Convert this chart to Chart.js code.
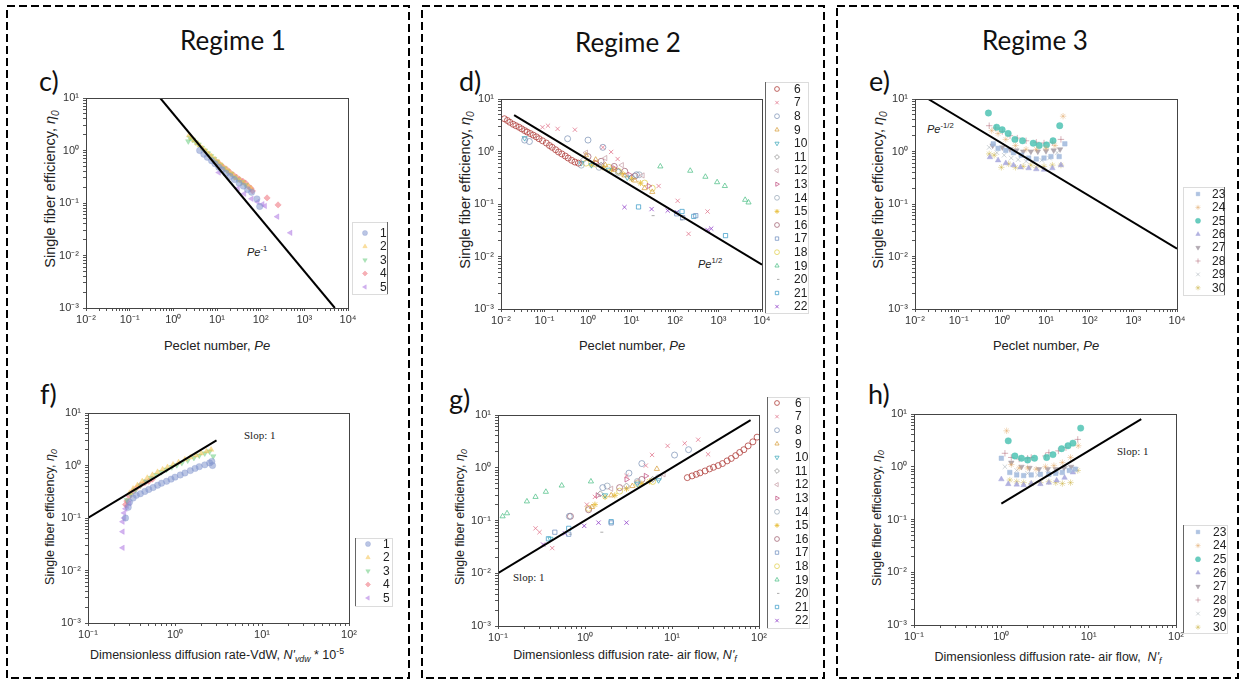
<!DOCTYPE html>
<html>
<head>
<meta charset="utf-8">
<script src="https://cdn.jsdelivr.net/npm/chart.js@4.4.1/dist/chart.umd.min.js"></script>
<style>
  body { margin: 0; background: #fff; }
  #page { position: relative; width: 1245px; height: 681px; overflow: hidden; font-family: 'Liberation Sans', Arial, sans-serif; color: #222; }
  .regime { position: absolute; font-family: Lato, 'Open Sans', sans-serif; font-size: 26px; transform: translate(-50%, -50%); white-space: nowrap; line-height: 1; color: #111; }
  .panel { position: absolute; font-family: Lato, 'Open Sans', sans-serif; font-size: 27px; line-height: 1; color: #111; }
  .ytitle { position: absolute; transform: translate(-50%, -50%) rotate(-90deg); white-space: nowrap; line-height: 1; }
  .xtitle { position: absolute; transform: translate(-50%, -50%); white-space: nowrap; line-height: 1; }
  .note { position: absolute; white-space: nowrap; line-height: 1; font-size: 11px; }
  .serif { font-family: 'Liberation Serif', 'Times New Roman', serif; }
  sub, sup { line-height: 0; font-size: 70%; }
  canvas { position: absolute; }
</style>
</head>
<body>
<div id="page">
  <svg width="1245" height="681" style="position:absolute;left:0;top:0">
    <rect x="7" y="6" width="402" height="672" fill="none" stroke="#000" stroke-width="2" stroke-dasharray="8 4"/>
    <rect x="422" y="6" width="402" height="672" fill="none" stroke="#000" stroke-width="2" stroke-dasharray="8 4"/>
    <rect x="837" y="6" width="401" height="672" fill="none" stroke="#000" stroke-width="2" stroke-dasharray="8 4"/>
  </svg>

  <div class="regime" style="left:233px;top:40px">Regime 1</div>
  <div class="regime" style="left:628px;top:42px">Regime 2</div>
  <div class="regime" style="left:1035px;top:40px">Regime 3</div>

  <div class="panel" style="left:39px;top:67px">c)</div>
  <div class="panel" style="left:459px;top:67px">d)</div>
  <div class="panel" style="left:869px;top:67px">e)</div>
  <div class="panel" style="left:40px;top:380px">f)</div>
  <div class="panel" style="left:449px;top:385px">g)</div>
  <div class="panel" style="left:868px;top:380px">h)</div>

  <div class="ytitle" style="left:50px;top:189px;font-size:14.5px">Single fiber efficiency, <i>η<sub>0</sub></i></div>
  <div class="ytitle" style="left:465px;top:190px;font-size:14.5px">Single fiber efficiency, <i>η<sub>0</sub></i></div>
  <div class="ytitle" style="left:878px;top:190px;font-size:14.5px">Single fiber efficiency, <i>η<sub>0</sub></i></div>
  <div class="ytitle" style="left:50px;top:517px;font-size:12.5px">Single fiber efficiency, <i>η<sub>0</sub></i></div>
  <div class="ytitle" style="left:460px;top:517px;font-size:12.5px">Single fiber efficiency, <i>η<sub>0</sub></i></div>
  <div class="ytitle" style="left:877px;top:518px;font-size:12.5px">Single fiber efficiency, <i>η<sub>0</sub></i></div>

  <div class="xtitle" style="left:217px;top:345px;font-size:13px">Peclet number, <i>Pe</i></div>
  <div class="xtitle" style="left:632px;top:345px;font-size:13px">Peclet number, <i>Pe</i></div>
  <div class="xtitle" style="left:1046px;top:345px;font-size:13px">Peclet number, <i>Pe</i></div>
  <div class="xtitle" style="left:217px;top:655px;font-size:12.5px">Dimensionless diffusion rate-VdW, <i>N'<sub>vdw</sub></i> * 10<sup>-5</sup></div>
  <div class="xtitle" style="left:625px;top:655px;font-size:12.5px">Dimensionless diffusion rate- air flow, <i>N'<sub>f</sub></i></div>
  <div class="xtitle" style="left:1048px;top:657px;font-size:12.5px">Dimensionless diffusion rate- air flow, &nbsp;<i>N'<sub>f</sub></i></div>

  <div class="note" style="left:247px;top:247px"><i>Pe</i><sup>-1</sup></div>
  <div class="note" style="left:698px;top:259px"><i>Pe</i><sup>1/2</sup></div>
  <div class="note" style="left:927px;top:124px"><i>Pe</i><sup>-1/2</sup></div>
  <div class="note serif" style="left:244px;top:430px">Slop: 1</div>
  <div class="note serif" style="left:513px;top:572px">Slop: 1</div>
  <div class="note serif" style="left:1117px;top:446px">Slop: 1</div>
</div>

<script>
// ---------- tick labels ----------
const peDecades = [-2, -1, 0, 1, 2, 3, 4];
const peTickLabels = ['10⁻²', '10⁻¹', '10⁰', '10¹', '10²', '10³', '10⁴'];
const nDecades = [-1, 0, 1, 2];
const nTickLabels = ['10⁻¹', '10⁰', '10¹', '10²'];
const etaDecades = [-3, -2, -1, 0, 1];
const etaTickLabels = ['10⁻³', '10⁻²', '10⁻¹', '10⁰', '10¹'];

// ---------- Regime 1 : series 1-5 ----------
const r1Labels = ['1', '2', '3', '4', '5'];
const r1PeS1 = [[4.0,1.0],[5,0.85],[6,0.74],[7.5,0.64],[9,0.56],[11,0.48],[13,0.43],[16,0.37],[20,0.32],[25,0.28],[32,0.24],[40,0.21],[50,0.18],[62,0.16],[82,0.12],[95,0.086]];
const r1PeS2 = [[2.3,1.95],[2.6,1.75],[3,1.55],[3.5,1.38],[4,1.25],[4.7,1.1],[5.5,0.98],[6.5,0.86],[7.5,0.78],[9,0.68],[11,0.6],[13,0.52],[16,0.45],[19,0.4],[23,0.35],[28,0.3],[34,0.27],[42,0.24],[52,0.21],[60,0.19]];
const r1PeS3 = [[2.2,1.5],[2.4,1.75],[2.8,1.6],[3.3,1.42],[3.8,1.3],[4.5,1.12],[5.3,1.0],[6.2,0.88],[7.3,0.78],[8.6,0.69],[10,0.61],[12,0.53],[14.5,0.46],[17,0.41],[21,0.36],[25,0.31],[30,0.28],[37,0.25],[45,0.22]];
const r1PeS4 = [[10,0.6],[12,0.53],[14,0.48],[17,0.43],[20,0.38],[24,0.34],[28,0.31],[33,0.28],[39,0.26],[45,0.24],[52,0.21],[60,0.19],[65,0.17],[140,0.125],[250,0.092]];
const r1PeS5 = [[11,0.38],[30,0.19],[42,0.15],[62,0.12],[85,0.105],[110,0.095],[125,0.088],[240,0.055],[480,0.027]];
const r1VdwS1 = [[0.27,0.1],[0.29,0.16],[0.3,0.2],[0.33,0.24],[0.36,0.27],[0.4,0.29],[0.45,0.32],[0.5,0.35],[0.56,0.38],[0.63,0.42],[0.7,0.46],[0.8,0.5],[0.9,0.55],[1.0,0.6],[1.15,0.66],[1.3,0.72],[1.5,0.8],[1.7,0.88],[1.9,0.95],[2.2,1.03],[2.5,1.12],[2.65,1.2],[2.7,1.0]];
const r1VdwS2 = [[0.3,0.3],[0.33,0.36],[0.37,0.42],[0.42,0.5],[0.48,0.58],[0.55,0.66],[0.63,0.75],[0.72,0.84],[0.82,0.93],[0.95,1.04],[1.1,1.15],[1.3,1.3],[1.5,1.42],[1.75,1.55],[2.0,1.7],[2.3,1.85],[2.6,2.0]];
const r1VdwS3 = [[0.28,0.22],[0.31,0.28],[0.35,0.34],[0.4,0.42],[0.46,0.5],[0.53,0.58],[0.61,0.66],[0.7,0.75],[0.8,0.84],[0.92,0.93],[1.05,1.02],[1.2,1.12],[1.4,1.25],[1.65,1.4],[1.9,1.55],[2.2,1.7],[2.5,1.85],[2.75,1.5]];
const r1VdwS4 = [[0.27,0.18],[0.28,0.21],[0.3,0.26],[0.33,0.32],[0.36,0.37],[0.4,0.42],[0.45,0.47],[0.5,0.5],[0.55,0.55]];
const r1VdwS5 = [[0.25,0.027],[0.25,0.055],[0.25,0.085],[0.26,0.1],[0.26,0.125],[0.27,0.15],[0.28,0.17],[0.3,0.19]];

// ---------- Regime 2 : series 6-22 ----------
const r2Labels = ['6','7','8','9','10','11','12','13','14','15','16','17','18','19','20','21','22'];
const r2PeS6 = [[0.012,4.2],[0.014,3.9],[0.016,3.6],[0.019,3.3],[0.022,3.1],[0.026,2.9],[0.03,2.7],[0.035,2.5],[0.04,2.35],[0.047,2.2],[0.055,2.05],[0.065,1.9],[0.075,1.75],[0.09,1.6],[0.11,1.45],[0.13,1.3],[0.15,1.2],[0.18,1.08],[0.21,0.98],[0.25,0.9],[0.3,0.82],[0.35,0.75],[0.42,0.68],[0.5,0.63],[0.6,0.6]];
const r2PeS7 = [[0.09,2.9],[0.12,3.1],[0.2,2.7],[0.5,2.6],[2.2,1.2],[3.4,0.98],[4.8,0.72],[42,0.22],[115,0.115],[205,0.027],[560,0.072]];
const r2PeS8 = [[0.035,1.65],[0.045,1.55],[0.34,1.75],[1.0,1.65],[2.2,1.2],[13,0.36]];
const r2PeS9 = [[0.9,0.85],[1.5,0.7],[2.5,0.55],[4,0.45],[7,0.35],[12,0.28],[20,0.2],[30,0.17]];
const r2PeS10 = [[0.035,1.8],[0.7,0.6],[1.2,0.55],[3,0.45],[8,0.32]];
const r2PeS11 = [[0.8,0.7],[2,0.55],[5,0.42],[10,0.32]];
const r2PeS12 = [[0.9,0.95],[2.5,0.75],[6,0.55],[18,0.35]];
const r2PeS13 = [[1.5,0.62],[4,0.48],[9,0.36],[25,0.22]];
const r2PeS14 = [[0.7,0.55],[1.8,0.5],[5,0.4],[15,0.36]];
const r2PeS15 = [[1.2,0.55],[2.2,0.5],[3.5,0.45],[6,0.38],[10,0.3],[16,0.25]];
const r2PeS16 = [[1.0,0.8],[2,0.65],[4,0.52],[7,0.42],[12,0.34]];
const r2PeS17 = [[110,0.065],[150,0.055],[300,0.06]];
const r2PeS18 = [[0.9,0.6],[1.5,0.58],[3,0.5],[5,0.42],[20,0.25],[30,0.2]];
const r2PeS19 = [[46,0.52],[224,0.43],[500,0.33],[930,0.26],[1400,0.22],[4100,0.12],[4900,0.107]];
const r2PeS20 = [[29,0.06],[130,0.05]];
const r2PeS21 = [[14.5,0.088],[145,0.072],[270,0.058],[1450,0.025]];
const r2PeS22 = [[6.9,0.087],[29,0.08],[68,0.075],[110,0.07],[560,0.032],[680,0.034]];
const r2NfS6 = [[15,0.65],[17,0.7],[19,0.75],[21,0.8],[24,0.87],[27,0.95],[30,1.02],[34,1.1],[38,1.2],[43,1.35],[48,1.5],[54,1.7],[60,1.95],[67,2.2],[75,2.6],[85,3.1],[95,3.8]];
const r2NfS7 = [[0.27,0.071],[0.3,0.06],[0.42,0.03],[1.05,0.2],[1.3,0.28],[3,0.7],[5,1.1],[5.9,1.75],[8.9,2.6],[14,2.9],[20,3.4],[26,1.8]];
const r2NfS8 = [[0.66,0.12],[1.6,0.42],[3.2,0.79],[4.5,1.2],[10.7,1.74],[15.5,2.2]];
const r2NfS9 = [[1.2,0.18],[2,0.3],[3.5,0.45],[6.7,0.95]];
const r2NfS10 = [[0.4,0.045],[1.7,0.3],[4,0.5],[7,0.58]];
const r2NfS11 = [[1.5,0.32],[3,0.45],[6,0.6]];
const r2NfS12 = [[2,0.4],[4,0.55],[8,0.75]];
const r2NfS13 = [[1.4,0.3],[3,0.6],[5,0.7]];
const r2NfS14 = [[1.8,0.45],[4,0.55],[7,0.65]];
const r2NfS15 = [[1.3,0.2],[1.7,0.28],[2.2,0.3],[3,0.4],[4.5,0.5],[5.5,0.55]];
const r2NfS16 = [[0.68,0.12],[1.1,0.16],[2.5,0.42],[4.5,0.6]];
const r2NfS17 = [[0.45,0.06],[0.65,0.055],[2,0.09]];
const r2NfS18 = [[1.1,0.17],[2.5,0.36],[4,0.5],[6,0.55]];
const r2NfS19 = [[0.113,0.12],[0.127,0.137],[0.215,0.23],[0.27,0.28],[0.355,0.35],[0.54,0.46],[1.17,0.55]];
const r2NfS20 = [[0.65,0.055],[1.5,0.06]];
const r2NfS21 = [[0.38,0.045],[0.65,0.071],[2.0,0.095]];
const r2NfS22 = [[0.33,0.035],[0.59,0.057],[0.98,0.079],[1.43,0.091],[3.0,0.091]];

// ---------- Regime 3 : series 23-30 ----------
const r3Labels = ['23','24','25','26','27','28','29','30'];
const r3PeS23 = [[0.62,1.4],[0.8,1.15],[1.2,1.05],[1.8,0.95],[2.7,0.85],[4,0.75],[6,0.72],[9,0.75],[13,0.8],[20,0.8],[27,1.4]];
const r3PeS24 = [[0.57,2.5],[0.8,2.2],[1.2,1.7],[2,1.3],[3.5,1.1],[6,1.1],[10,1.15],[16,1.3],[24.6,4.7]];
const r3PeS25 = [[0.48,5.4],[0.74,2.9],[0.99,2.6],[1.36,2.2],[1.94,1.7],[2.9,1.6],[5.1,1.44],[7,1.3],[10.3,1.34],[14.5,1.6],[20.6,3.1]];
const r3PeS26 = [[0.52,0.78],[0.8,0.68],[1.2,0.6],[1.8,0.55],[2.6,0.5],[4,0.48],[6,0.46],[9,0.45],[14,0.48],[22,0.55]];
const r3PeS27 = [[0.6,1.3],[1.0,1.2],[1.5,1.1],[2.1,1.05],[3,1.0],[4.5,1.0],[6.5,1.0],[10,1.02],[15,1.05],[21,1.1]];
const r3PeS28 = [[0.5,3.1],[0.7,2.8],[1.0,2.4],[1.5,2.0],[2.2,1.8],[3.5,1.6],[6,1.5],[9,1.45],[14,1.5],[22,1.7]];
const r3PeS29 = [[0.5,1.2],[0.75,0.95],[1.1,0.85],[1.6,0.75],[2.3,0.7],[3.5,0.65],[5,0.65],[8,0.68],[12,0.75],[18,0.95]];
const r3PeS30 = [[0.5,0.9],[0.65,0.85],[0.95,0.5],[1.4,0.58],[2,0.5],[3,0.52],[4.5,0.55],[6,0.5],[9,0.52],[14,0.55],[22,0.55]];
const r3NfS23 = [[1.0,1.45],[1.25,0.78],[1.5,0.7],[1.8,0.68],[2.2,0.7],[2.8,0.72],[3.5,0.72],[4.2,0.75],[5,0.78],[6,0.85],[7,0.9]];
const r3NfS24 = [[1.15,4.8],[1.3,1.1],[1.6,0.95],[2.0,0.95],[2.5,0.9],[3.2,1.0],[4,1.05],[5,1.2],[6.2,1.5],[7.6,2.5]];
const r3NfS25 = [[1.2,3.1],[1.43,1.6],[1.7,1.45],[2.0,1.34],[2.4,1.45],[3.3,1.5],[3.9,1.7],[4.9,2.2],[5.8,2.5],[6.6,2.8],[8.1,5.4]];
const r3NfS26 = [[1.0,0.58],[1.2,0.47],[1.5,0.46],[1.8,0.45],[2.2,0.48],[2.8,0.47],[3.5,0.5],[4.3,0.55],[5.3,0.62],[6.6,0.78]];
const r3NfS27 = [[1.3,1.2],[1.7,1.0],[2.1,0.95],[2.7,0.9],[3.4,0.9],[4.2,0.9],[5.2,0.95],[6.3,1.0]];
const r3NfS28 = [[1.1,1.8],[1.3,1.5],[1.6,1.4],[2.0,1.45],[2.2,1.5],[3.2,1.6],[3.5,1.85],[4.5,2.0],[5.5,2.3],[7.5,3.3]];
const r3NfS29 = [[1.1,1.0],[1.5,0.85],[2,0.75],[2.6,0.7],[3.4,0.75],[4.4,0.8],[5.5,0.95],[7.2,0.9]];
const r3NfS30 = [[1.25,0.56],[1.5,0.52],[1.8,0.5],[2.2,0.48],[2.8,0.5],[3.5,0.52],[4.2,0.5],[5,0.48],[6.2,0.5],[7.5,0.85]];

// ---------- fitted lines (end points) ----------
const lineC = [[0.5,10],[5000,0.001]];        // Pe^-1
const lineD = [[0.02,4.95],[10000,0.007]];     // Pe^-1/2
const lineE = [[0.02,10],[10000,0.0141]];      // Pe^-1/2
const lineF = [[0.1,0.1],[3,3]];               // slope 1
const lineG = [[0.1,0.01],[80,8]];             // slope 1
const lineH = [[1,0.2],[40,8]];                // slope 1

// ---------- marker styles ----------
const r1Colors = ['rgba(130,150,205,0.55)','rgba(245,195,80,0.55)','rgba(110,205,130,0.55)','rgba(238,110,120,0.55)','rgba(180,130,228,0.6)'];
const r1Styles = ['circle','triangle','triangle','rectRot','triangle'];
const r1Rot = [0, 0, 180, 0, 270];
const r2Colors = ['rgba(176,64,60,0.8)','rgba(224,112,136,0.75)','rgba(128,149,184,0.75)','rgba(216,160,64,0.75)','rgba(64,170,187,0.75)','rgba(140,140,140,0.75)','rgba(200,160,168,0.75)','rgba(192,80,128,0.75)','rgba(152,168,184,0.75)','rgba(232,192,64,0.85)','rgba(160,96,112,0.75)','rgba(112,144,192,0.75)','rgba(224,208,80,0.75)','rgba(80,192,136,0.75)','rgba(144,144,144,0.75)','rgba(60,156,200,0.75)','rgba(144,64,200,0.8)'];
const r2Styles = ['circle','crossRot','circle','triangle','triangle','rectRot','triangle','triangle','circle','star','circle','rect','circle','triangle','dash','rect','crossRot'];
const r2Rot = [0,0,0,0,180,0,270,90,0,0,0,0,0,0,0,0,0];
const r3Colors = ['rgba(160,185,220,0.85)','rgba(225,165,100,0.85)','rgba(80,195,180,0.85)','rgba(165,165,220,0.85)','rgba(165,155,165,0.85)','rgba(160,70,90,0.85)','rgba(140,150,160,0.85)','rgba(200,175,60,0.85)'];
const r3Styles = ['rect','star','circle','triangle','triangle','cross','crossRot','star'];
const r3Rot = [0,0,0,0,180,0,0,0];

// ---------- layout ----------
const PAD_L = 50, PAD_T = 20, PAD_R = 72, PAD_B = 26;
const FONT = "'Liberation Sans', Arial, sans-serif";

function logTicks(decades) {
  const ticks = [];
  const first = decades[0], last = decades[decades.length - 1];
  for (let e = first; e <= last; e++) {
    for (let m = 1; m <= 9; m++) {
      if (e === last && m > 1) break;
      ticks.push({ value: Number((m * Math.pow(10, e)).toPrecision(10)) });
    }
  }
  return ticks;
}

function tickText(value, decades, labels) {
  const lg = Math.log10(value);
  const i = decades.findIndex(d => Math.abs(d - lg) < 1e-6);
  return i >= 0 ? labels[i] : '';
}

function toXY(pairs) {
  return pairs.map(p => ({ x: p[0], y: p[1] }));
}

// legend and plot frame drawn from the datasets
const panelDecor = {
  id: 'panelDecor',
  afterDraw(chart, args, o) {
    const ctx = chart.ctx;
    const a = chart.chartArea;
    ctx.save();
    ctx.strokeStyle = '#444';
    ctx.lineWidth = 1;
    ctx.strokeRect(a.left + 0.5, a.top + 0.5, a.right - a.left, a.bottom - a.top);

    const ox = o.originX, oy = o.originY;
    const l = o.box[0] - ox, t = o.box[1] - oy, r = o.box[2] - ox, b = o.box[3] - oy;
    ctx.strokeStyle = '#dcdcdc';
    ctx.strokeRect(l + 0.5, t + 0.5, r - l, b - t);
    ctx.strokeStyle = '#666';
    const xe = (o.dark === 'left' ? l : r) + 0.5;
    ctx.beginPath();
    ctx.moveTo(xe, t);
    ctx.lineTo(xe, b);
    ctx.stroke();

    ctx.font = '12px ' + FONT;
    ctx.textBaseline = 'middle';
    ctx.textAlign = 'left';
    chart.data.datasets.forEach(ds => {
      if (ds.legendIndex === undefined) return;
      const y = o.y0 + ds.legendIndex * o.dy - oy;
      ctx.fillStyle = ds.backgroundColor;
      ctx.strokeStyle = ds.borderColor;
      ctx.lineWidth = ds.borderWidth;
      Chart.helpers.drawPoint(ctx, {
        pointStyle: ds.pointStyle, rotation: ds.pointRotation || 0,
        radius: ds.pointRadius * 0.8, borderWidth: ds.borderWidth
      }, o.symX - ox, y);
      ctx.fillStyle = '#222';
      ctx.fillText(ds.label, o.txtX - ox, y + 0.5);
    });
    ctx.restore();
  }
};

function makeChart(cfg) {
  const g = cfg.geom;
  const canvas = document.createElement('canvas');
  const w = g.W + PAD_L + PAD_R, h = g.H + PAD_T + PAD_B;
  canvas.width = w;
  canvas.height = h;
  canvas.style.left = (g.L - PAD_L) + 'px';
  canvas.style.top = (g.T - PAD_T) + 'px';
  canvas.style.width = w + 'px';
  canvas.style.height = h + 'px';
  document.getElementById('page').appendChild(canvas);

  const datasets = [{
    data: toXY(cfg.line), showLine: true, borderColor: '#000', borderWidth: 2,
    pointRadius: 0, backgroundColor: '#000'
  }];
  cfg.series.forEach((s, i) => {
    datasets.push({
      label: cfg.labels[i],
      legendIndex: i,
      data: toXY(s),
      pointStyle: cfg.styles[i],
      pointRotation: cfg.rot[i],
      pointRadius: cfg.radius,
      borderColor: cfg.colors[i],
      backgroundColor: cfg.filled ? cfg.colors[i] : 'rgba(0,0,0,0)',
      borderWidth: cfg.filled ? 0.5 : 1
    });
  });

  const axis = (decades, labels, isX) => ({
    type: 'logarithmic',
    position: isX ? 'bottom' : 'left',
    min: Math.pow(10, decades[0]),
    max: Math.pow(10, decades[decades.length - 1]),
    afterBuildTicks: s => { s.ticks = logTicks(decades); },
    afterFit: s => { if (isX) s.height = PAD_B; else s.width = PAD_L; },
    ticks: {
      autoSkip: false, maxRotation: 0, minRotation: 0,
      padding: isX ? 2 : 4,
      color: '#333',
      font: { family: FONT, size: 11 },
      callback: v => tickText(v, decades, labels)
    },
    grid: { drawOnChartArea: false, tickLength: 3, color: '#555' },
    border: { color: '#444', width: 1 }
  });

  return new Chart(canvas, {
    type: 'scatter',
    data: { datasets },
    options: {
      responsive: false,
      animation: false,
      events: [],
      layout: { padding: { left: 0, top: PAD_T, right: PAD_R, bottom: 0 } },
      scales: {
        x: axis(cfg.xDecades, cfg.xLabels, true),
        y: axis(etaDecades, etaTickLabels, false)
      },
      plugins: {
        legend: { display: false },
        tooltip: { enabled: false },
        panelDecor: Object.assign({ originX: g.L - PAD_L, originY: g.T - PAD_T }, cfg.legend)
      }
    },
    plugins: [panelDecor]
  });
}

const r1 = { labels: r1Labels, colors: r1Colors, styles: r1Styles, rot: r1Rot, filled: true, radius: 3.2 };
const r2 = { labels: r2Labels, colors: r2Colors, styles: r2Styles, rot: r2Rot, filled: false, radius: 3 };
const r3 = { labels: r3Labels, colors: r3Colors, styles: r3Styles, rot: r3Rot, filled: true, radius: 3.2 };

makeChart(Object.assign({}, r1, {
  geom: { L: 86, T: 98, W: 262, H: 210 },
  xDecades: peDecades, xLabels: peTickLabels, line: lineC,
  series: [r1PeS1, r1PeS2, r1PeS3, r1PeS4, r1PeS5],
  legend: { box: [352, 222, 387, 294], dark: 'right', symX: 365, txtX: 380, y0: 233, dy: 13.5 }
}));
makeChart(Object.assign({}, r2, {
  geom: { L: 501, T: 99, W: 261, H: 210 },
  xDecades: peDecades, xLabels: peTickLabels, line: lineD,
  series: [r2PeS6, r2PeS7, r2PeS8, r2PeS9, r2PeS10, r2PeS11, r2PeS12, r2PeS13, r2PeS14, r2PeS15, r2PeS16, r2PeS17, r2PeS18, r2PeS19, r2PeS20, r2PeS21, r2PeS22],
  legend: { box: [765, 82, 808, 313], dark: 'left', symX: 777, txtX: 794, y0: 89, dy: 13.6 }
}));
makeChart(Object.assign({}, r3, {
  geom: { L: 915, T: 99, W: 262, H: 210 },
  xDecades: peDecades, xLabels: peTickLabels, line: lineE,
  series: [r3PeS23, r3PeS24, r3PeS25, r3PeS26, r3PeS27, r3PeS28, r3PeS29, r3PeS30],
  legend: { box: [1183, 187, 1224, 295], dark: 'right', symX: 1198, txtX: 1212, y0: 194, dy: 13.4 }
}));
makeChart(Object.assign({}, r1, {
  geom: { L: 88, T: 413, W: 261, H: 210 },
  xDecades: nDecades, xLabels: nTickLabels, line: lineF,
  series: [r1VdwS1, r1VdwS2, r1VdwS3, r1VdwS4, r1VdwS5],
  legend: { box: [355, 538, 392, 606], dark: 'left', symX: 368, txtX: 383, y0: 544, dy: 13.5 }
}));
makeChart(Object.assign({}, r2, {
  geom: { L: 498, T: 415, W: 261, H: 211 },
  xDecades: nDecades, xLabels: nTickLabels, line: lineG,
  series: [r2NfS6, r2NfS7, r2NfS8, r2NfS9, r2NfS10, r2NfS11, r2NfS12, r2NfS13, r2NfS14, r2NfS15, r2NfS16, r2NfS17, r2NfS18, r2NfS19, r2NfS20, r2NfS21, r2NfS22],
  legend: { box: [767, 397, 809, 628], dark: 'left', symX: 777, txtX: 795, y0: 403, dy: 13.6 }
}));
makeChart(Object.assign({}, r3, {
  geom: { L: 914, T: 414, W: 262, H: 211 },
  xDecades: nDecades, xLabels: nTickLabels, line: lineH,
  series: [r3NfS23, r3NfS24, r3NfS25, r3NfS26, r3NfS27, r3NfS28, r3NfS29, r3NfS30],
  legend: { box: [1183, 525, 1227, 633], dark: 'left', symX: 1198, txtX: 1213, y0: 532, dy: 13.6 }
}));
</script>
</body>
</html>
